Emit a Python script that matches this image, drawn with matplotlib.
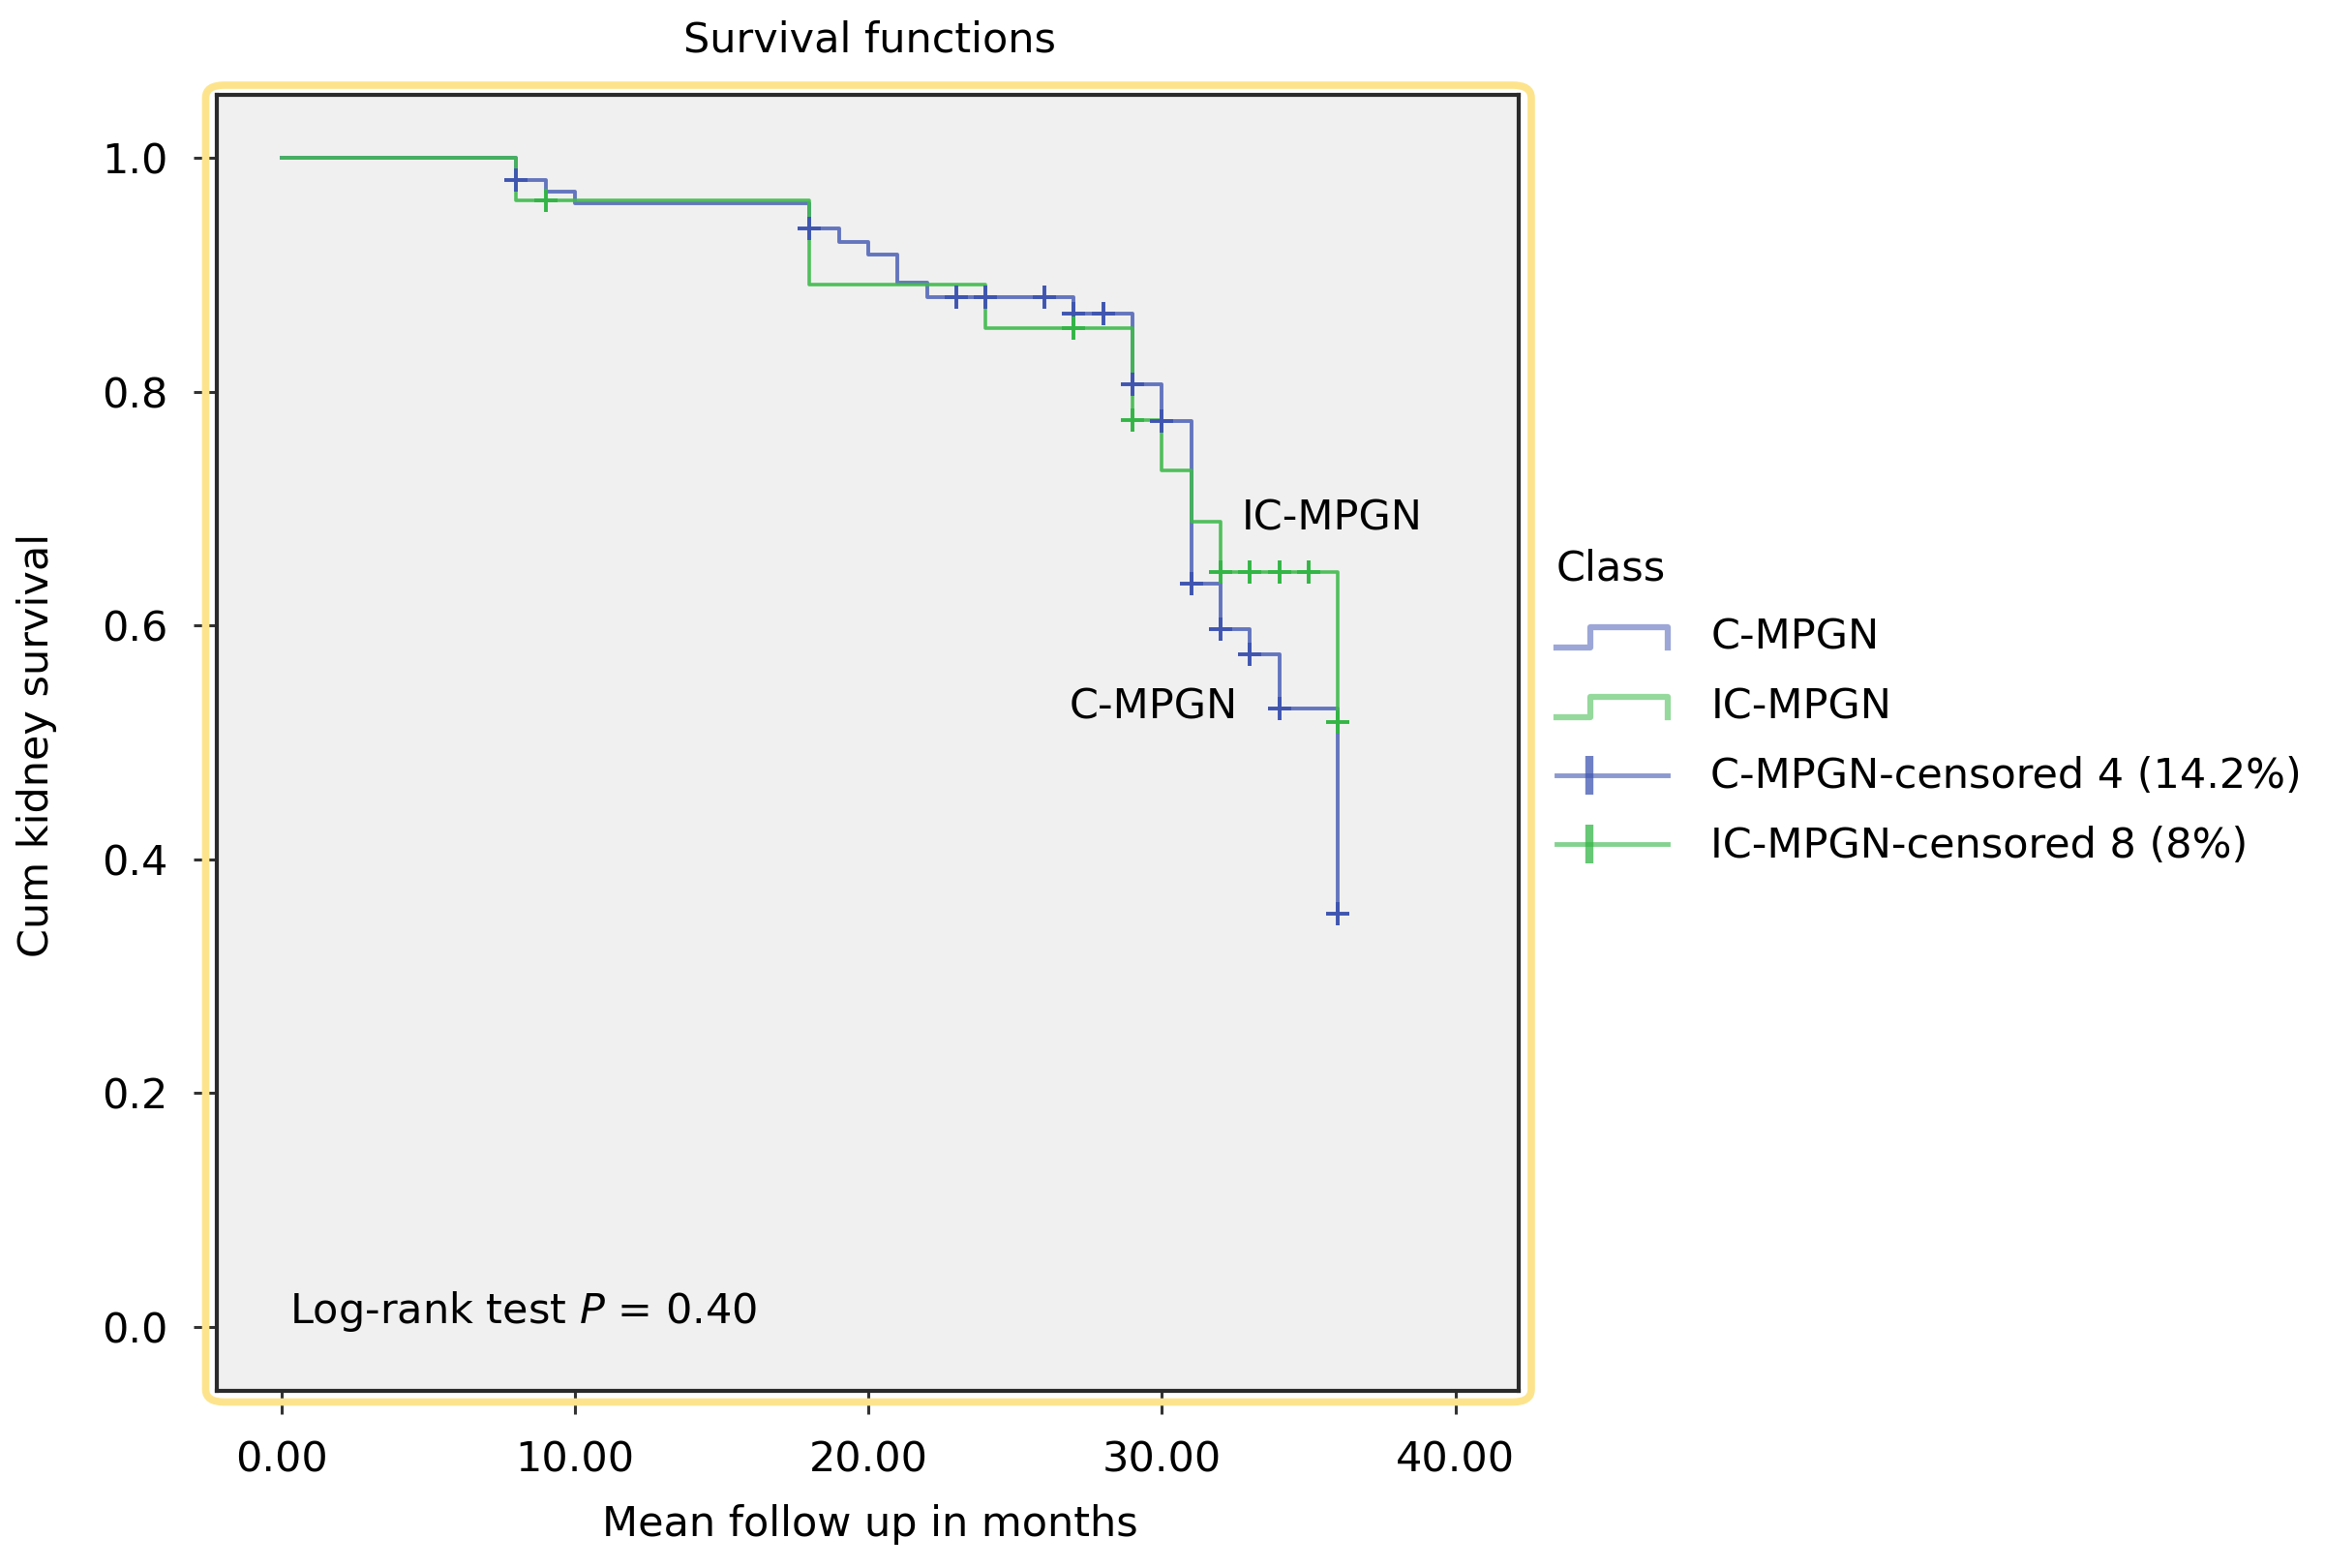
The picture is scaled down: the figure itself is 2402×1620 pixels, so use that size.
import numpy as np
import matplotlib
matplotlib.use("Agg")
import matplotlib.pyplot as plt
from matplotlib.lines import Line2D
from matplotlib.patches import FancyBboxPatch
from matplotlib.legend_handler import HandlerBase

plt.rcParams['font.family'] = ['DejaVu Sans']

# Kaplan-Meier steps (months, cumulative survival)
c_times = [0, 8, 9, 10, 18, 19, 20, 21, 22, 27, 29, 30, 31, 32, 33, 34, 36]
c_surv = [1.000, 0.981, 0.971, 0.961, 0.940, 0.928, 0.917, 0.893, 0.881,
          0.867, 0.806, 0.775, 0.636, 0.597, 0.575, 0.529, 0.353]
c_censored = [8, 18, 23, 24, 26, 27, 28, 29, 30, 31, 32, 33, 34, 36]

ic_times = [0, 8, 18, 24, 29, 30, 31, 32, 36]
ic_surv = [1.000, 0.964, 0.892, 0.854, 0.776, 0.733, 0.689, 0.646, 0.517]
ic_censored = [9, 27, 29, 32, 33, 34, 35, 36]

legend_labels = ['C-MPGN', 'IC-MPGN', 'C-MPGN-censored 4 (14.2%)',
                 'IC-MPGN-censored 8 (8%)']
x_ticks = [0, 10, 20, 30, 40]
y_ticks = [0.0, 0.2, 0.4, 0.6, 0.8, 1.0]

BLUE = '#4c60b6'
GREEN = '#3fba4c'
FS = 31


def surv_at(times, surv, t):
    # value of the step function just after time t
    idx = np.searchsorted(times, t, side='right') - 1
    return np.asarray(surv)[idx]


class StepHandler(HandlerBase):
    def create_artists(self, legend, orig_handle, xdescent, ydescent,
                       width, height, fontsize, trans):
        fx = np.array([0.0, 0.29, 0.29, 0.95, 0.95])
        fy = np.array([0.05, 0.05, 0.75, 0.75, 0.05])
        ln = Line2D(fx * width - xdescent, fy * height - ydescent,
                    color=orig_handle.get_color(), lw=4.5, alpha=0.55)
        ln.set_transform(trans)
        return [ln]


class CensorHandler(HandlerBase):
    def create_artists(self, legend, orig_handle, xdescent, ydescent,
                       width, height, fontsize, trans):
        y = 0.45 * height - ydescent
        col = orig_handle.get_markeredgecolor()
        ln = Line2D([-xdescent, 0.95 * width - xdescent], [y, y],
                    color=col, lw=3.5, alpha=0.6)
        mk = Line2D([0.28 * width - xdescent], [y], marker='|', ms=29,
                    mew=6, color=col, alpha=0.75, linestyle='none')
        ln.set_transform(trans)
        mk.set_transform(trans)
        return [ln, mk]


fig = plt.figure(figsize=(24.02, 16.20), dpi=100)
ax = fig.add_axes([0.09326, 0.11296, 0.55995, 0.82654])
ax.set_facecolor('#f0f0f0')

c_line = ax.step(c_times, c_surv, where='post', color=BLUE, lw=2.8,
                 alpha=0.85, zorder=2)[0]
ic_line = ax.step(ic_times, ic_surv, where='post', color=GREEN, lw=2.6,
                  alpha=0.9, zorder=3)[0]
c_mark = ax.plot(c_censored, surv_at(c_times, c_surv, c_censored),
                 linestyle='none', marker='+', ms=17, mew=2.8,
                 color='#3f55b0', zorder=4)[0]
ic_mark = ax.plot(ic_censored, surv_at(ic_times, ic_surv, ic_censored),
                  linestyle='none', marker='+', ms=17, mew=2.8,
                  color='#33b545', zorder=5)[0]

ax.set_xlim(-2.2, 42.16)
ax.set_ylim(-0.055, 1.054)
ax.set_xticks(x_ticks)
ax.set_xticklabels(['%.2f' % v for v in x_ticks])
ax.set_yticks(y_ticks)
ax.set_yticklabels(['%.1f' % v for v in y_ticks])
ax.tick_params(axis='both', direction='out', length=17, width=2.2,
               color='#333333', labelsize=FS, pad=19.5)
for sp in ax.spines.values():
    sp.set_linewidth(3)
    sp.set_color('#2a2a2a')

ax.text(26.85, 0.5205, 'C-MPGN', fontsize=FS, ha='left', va='baseline')
ax.text(32.72, 0.682, 'IC-MPGN', fontsize=FS, ha='left', va='baseline')
ax.text(0.27, 0.003, 'Log-rank test $P$ = 0.40', fontsize=FS,
        ha='left', va='baseline')

fig.text(0.3741, 1 - 42 / 1620, 'Survival functions', fontsize=FS,
         ha='center', va='center')
fig.text(0.3741, 1 - 1575 / 1620, 'Mean follow up in months', fontsize=FS,
         ha='center', va='center')
fig.text(38 / 2402, 1 - 770 / 1620, 'Cum kidney survival', fontsize=FS,
         ha='center', va='center', rotation=90)

# yellow frame around the plot area
frame = FancyBboxPatch((0.08847, 0.10586), 0.6586 - 0.08847,
                       0.94568 - 0.10586,
                       boxstyle='round,pad=0,rounding_size=0.008',
                       transform=fig.transFigure, fill=False,
                       ec='#fde48c', lw=5.5)
fig.patches.append(frame)

leg = ax.legend([c_line, ic_line, c_mark, ic_mark], legend_labels,
                handler_map={c_line: StepHandler(), ic_line: StepHandler(),
                             c_mark: CensorHandler(),
                             ic_mark: CensorHandler()},
                title='Class', loc='upper left',
                bbox_to_anchor=(1608 / 2402, 1 - 566 / 1620),
                bbox_transform=fig.transFigure, frameon=False,
                fontsize=FS, title_fontsize=FS, alignment='left',
                borderpad=0, borderaxespad=0, handlelength=2.8,
                handletextpad=0.9, labelspacing=0.69)

fig.savefig('out.png', dpi=100)
